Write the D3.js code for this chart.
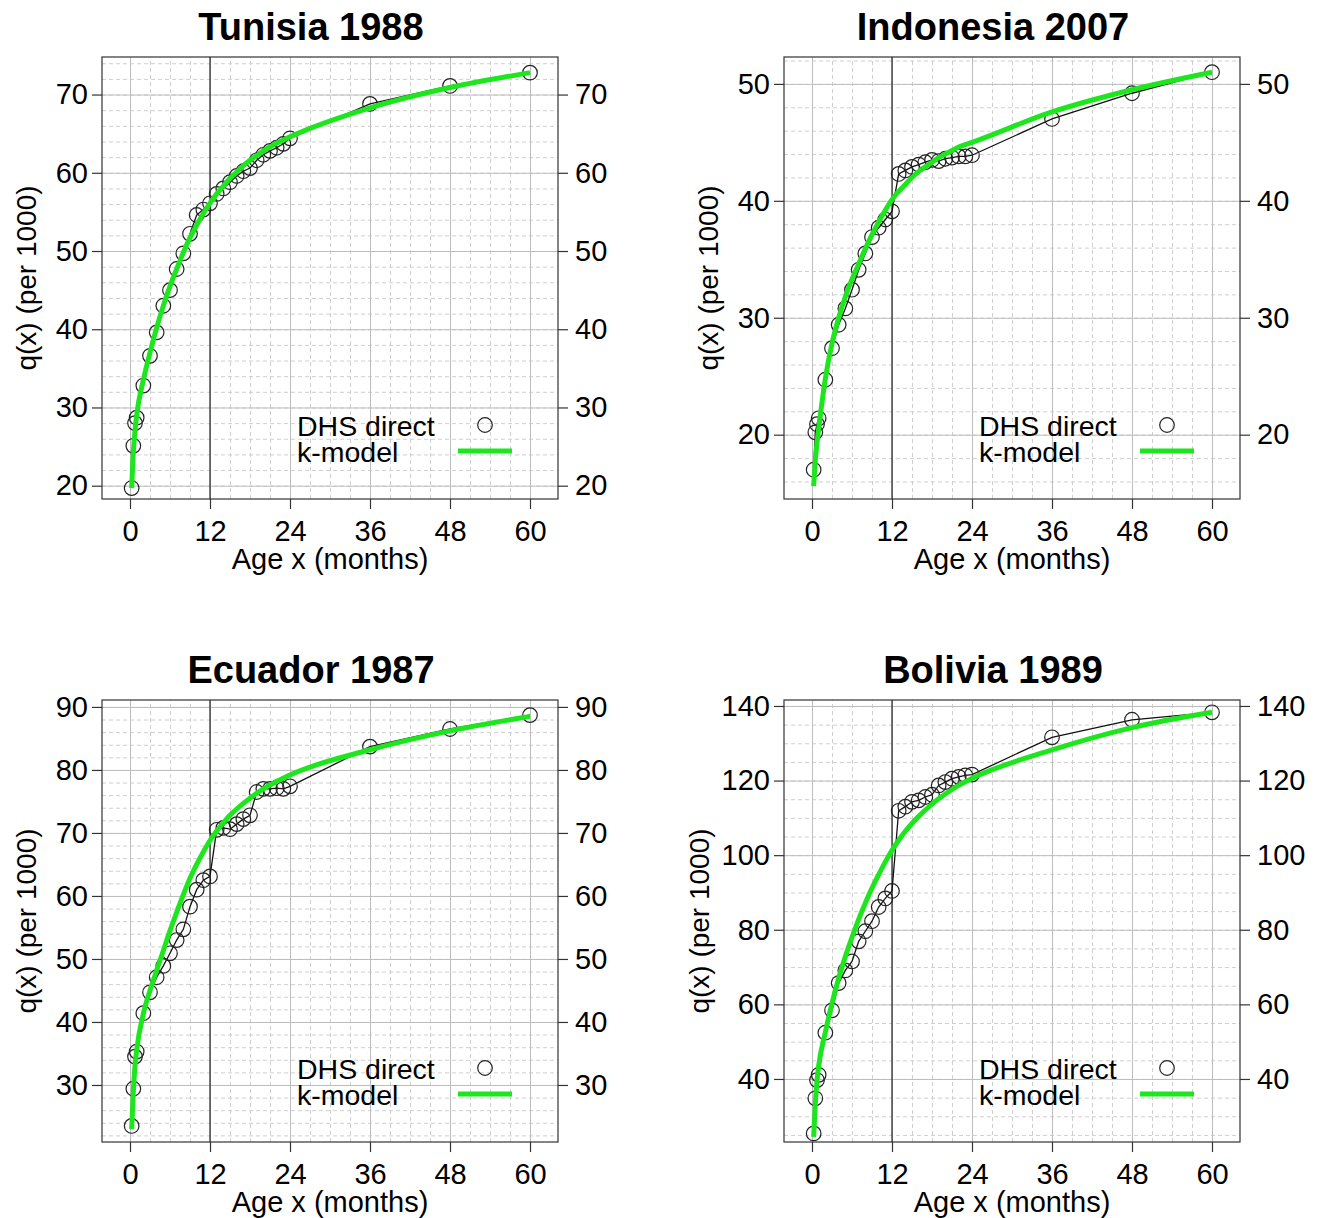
<!DOCTYPE html>
<html>
<head>
<meta charset="utf-8">
<script src="https://cdn.jsdelivr.net/npm/d3@7"></script>
<style>
  body { margin: 0; background: #fff; }
  text { font-family: "Liberation Sans", Arial, sans-serif; fill: #000; }
</style>
</head>
<body>
<div id="chart"></div>
<script>
// ages in months
var ages = [0.25, 0.5, 0.75, 1, 2, 3, 4, 5, 6, 7, 8, 9, 10, 11, 12,
            13, 14, 15, 16, 17, 18, 19, 20, 21, 22, 23, 24, 36, 48, 60];

// q(x) per 1000, DHS direct estimates and k-model fit
var tunisiaDHS   = [19.7, 25.1, 28.0, 28.7, 32.8, 36.6, 39.6, 43.0, 45.0, 47.7, 49.7, 52.2, 54.6, 55.3, 56.1,
                    57.3, 58.0, 58.8, 59.6, 60.2, 60.6, 61.6, 62.3, 62.8, 63.2, 63.7, 64.4, 68.8, 71.1, 72.8];
var tunisiaModel = [19.7, 24.3, 27.0, 29.0, 33.5, 37.0, 40.2, 43.0, 45.5, 47.7, 49.8, 51.7, 53.3, 54.8, 56.1,
                    57.3, 58.3, 59.3, 60.1, 60.9, 61.6, 62.2, 62.8, 63.3, 63.8, 64.2, 64.6, 68.3, 70.9, 72.8];

var indonesiaDHS   = [17.0, 20.2, 20.9, 21.4, 24.7, 27.4, 29.4, 30.8, 32.4, 34.1, 35.5, 36.9, 37.7, 38.4, 39.1,
                      42.3, 42.6, 42.9, 43.1, 43.3, 43.5, 43.4, 43.6, 43.7, 43.8, 43.8, 43.9, 47.0, 49.2, 51.0];
var indonesiaModel = [15.6, 17.8, 19.3, 20.5, 24.8, 27.8, 30.0, 31.8, 33.3, 34.6, 35.9, 37.1, 38.2, 39.2, 40.1,
                      40.8, 41.4, 42.0, 42.5, 42.9, 43.3, 43.7, 44.0, 44.3, 44.6, 44.8, 45.0, 47.6, 49.5, 51.0];

var ecuadorDHS   = [23.5, 29.4, 34.5, 35.3, 41.4, 44.7, 47.1, 48.9, 50.9, 53.0, 54.7, 58.3, 61.0, 62.5, 63.1,
                    70.5, 70.8, 70.6, 71.4, 72.2, 72.8, 76.5, 77.0, 77.0, 77.1, 77.0, 77.4, 83.7, 86.5, 88.7];
var ecuadorModel = [23.0, 29.0, 33.0, 35.5, 41.3, 45.0, 48.2, 51.3, 54.5, 57.4, 60.2, 62.8, 65.0, 67.0, 68.8,
                    70.3, 71.6, 72.8, 73.8, 74.7, 75.5, 76.3, 77.0, 77.6, 78.2, 78.7, 79.2, 83.2, 86.2, 88.5];

var boliviaDHS   = [25.4, 34.8, 39.7, 41.1, 52.4, 58.4, 65.7, 69.1, 71.5, 76.9, 79.6, 82.3, 86.1, 88.4, 90.4,
                    111.9, 113.0, 114.3, 114.7, 115.6, 116.2, 118.7, 119.6, 120.5, 121.0, 121.4, 121.6, 131.6, 136.3, 138.3];
var boliviaModel = [24.5, 33.5, 39.5, 43.5, 52.5, 60.3, 67.0, 72.8, 78.0, 82.8, 87.2, 91.2, 94.8, 98.2, 101.3,
                    104.0, 106.4, 108.5, 110.4, 112.1, 113.7, 115.1, 116.4, 117.6, 118.7, 119.7, 120.6, 128.2, 134.2, 138.3];

// tick labels
var xTicks = [0, 12, 24, 36, 48, 60];
var tunisiaTicks   = [20, 30, 40, 50, 60, 70];
var indonesiaTicks = [20, 30, 40, 50];
var ecuadorTicks   = [30, 40, 50, 60, 70, 80, 90];
var boliviaTicks   = [40, 60, 80, 100, 120, 140];

var panels = [
  {title: "Tunisia 1988",   dhs: tunisiaDHS,   model: tunisiaModel,   ticks: tunisiaTicks,   minor: 2, yDomain: [18.3, 74.8],  left: 102, top: 57,  ylab: -66},
  {title: "Indonesia 2007", dhs: indonesiaDHS, model: indonesiaModel, ticks: indonesiaTicks, minor: 2, yDomain: [14.5, 52.3],  left: 784, top: 57,  ylab: -66},
  {title: "Ecuador 1987",   dhs: ecuadorDHS,   model: ecuadorModel,   ticks: ecuadorTicks,   minor: 2, yDomain: [20.95, 91.1], left: 102, top: 700, ylab: -66},
  {title: "Bolivia 1989",   dhs: boliviaDHS,   model: boliviaModel,   ticks: boliviaTicks,   minor: 5, yDomain: [23.1, 141.6], left: 784, top: 700, ylab: -75}
];

var width = 456, height = 442;
var green = "#1ee61e";

var svg = d3.select("#chart").append("svg")
    .attr("width", 1318)
    .attr("height", 1218);

svg.append("rect").attr("width", 1318).attr("height", 1218).attr("fill", "#fff");

panels.forEach(function(p) {
  var g = svg.append("g")
      .attr("transform", "translate(" + p.left + "," + p.top + ")");

  var x = d3.scaleLinear().domain([-4.2, 64.2]).range([0, width]);
  var y = d3.scaleLinear().domain(p.yDomain).range([height, 0]);

  // minor gridlines (dashed)
  var minorX = d3.range(0, 61, 3);
  var minorY = d3.range(Math.ceil(p.yDomain[0] / p.minor) * p.minor, p.yDomain[1], p.minor);

  g.append("g")
      .attr("class", "grid minor")
      .attr("transform", "translate(0," + height + ")")
      .call(d3.axisBottom(x).tickValues(minorX).tickSize(-height).tickFormat(""));
  g.append("g")
      .attr("class", "grid minor")
      .call(d3.axisLeft(y).tickValues(minorY).tickSize(-width).tickFormat(""));

  // major gridlines
  g.append("g")
      .attr("class", "grid major")
      .attr("transform", "translate(0," + height + ")")
      .call(d3.axisBottom(x).tickValues(xTicks).tickSize(-height).tickFormat(""));
  g.append("g")
      .attr("class", "grid major")
      .call(d3.axisLeft(y).tickValues(p.ticks).tickSize(-width).tickFormat(""));

  g.selectAll(".grid .domain").remove();
  g.selectAll(".grid.minor line")
      .attr("stroke", "#cfcfcf")
      .attr("stroke-width", 1)
      .attr("stroke-dasharray", "4,3");
  g.selectAll(".grid.major line")
      .attr("stroke", "#bdbdbd")
      .attr("stroke-width", 1);

  // vertical line at 12 months
  g.append("line")
      .attr("x1", x(12)).attr("x2", x(12))
      .attr("y1", 0).attr("y2", height)
      .attr("stroke", "#222")
      .attr("stroke-width", 1.2);

  var pts = ages.map(function(a, i) { return {age: a, dhs: p.dhs[i], model: p.model[i]}; });

  // DHS direct: line + open circles
  g.append("path")
      .datum(pts)
      .attr("fill", "none")
      .attr("stroke", "#111")
      .attr("stroke-width", 1.3)
      .attr("d", d3.line().x(function(d) { return x(d.age); }).y(function(d) { return y(d.dhs); }));

  g.selectAll("circle.dhs")
      .data(pts)
    .enter().append("circle")
      .attr("class", "dhs")
      .attr("cx", function(d) { return x(d.age); })
      .attr("cy", function(d) { return y(d.dhs); })
      .attr("r", 7.3)
      .attr("fill", "none")
      .attr("stroke", "#222")
      .attr("stroke-width", 1.2);

  // k-model
  g.append("path")
      .datum(pts)
      .attr("fill", "none")
      .attr("stroke", green)
      .attr("stroke-width", 5)
      .attr("stroke-linejoin", "round")
      .attr("d", d3.line().curve(d3.curveMonotoneX)
          .x(function(d) { return x(d.age); }).y(function(d) { return y(d.model); }));

  // box
  g.append("rect")
      .attr("width", width).attr("height", height)
      .attr("fill", "none")
      .attr("stroke", "#333")
      .attr("stroke-width", 1.2);

  // axes
  g.append("g")
      .attr("class", "axis")
      .attr("transform", "translate(0," + height + ")")
      .call(d3.axisBottom(x).tickValues(xTicks).tickSize(10).tickPadding(11));
  g.append("g")
      .attr("class", "axis")
      .call(d3.axisLeft(y).tickValues(p.ticks).tickSize(10).tickPadding(4));
  g.append("g")
      .attr("class", "axis")
      .attr("transform", "translate(" + width + ",0)")
      .call(d3.axisRight(y).tickValues(p.ticks).tickSize(10).tickPadding(7));

  g.selectAll(".axis .domain").remove();
  g.selectAll(".axis line").attr("stroke", "#333").attr("stroke-width", 1.2);
  g.selectAll(".axis text")
      .attr("font-size", "29px")
      .attr("font-family", "Liberation Sans, Arial, sans-serif")
      .attr("fill", "#000");

  // title
  g.append("text")
      .attr("x", width / 2 - 19)
      .attr("y", -17)
      .attr("text-anchor", "middle")
      .attr("font-size", "38px")
      .attr("font-weight", "bold")
      .text(p.title);

  // axis labels
  g.append("text")
      .attr("x", width / 2)
      .attr("y", height + 70)
      .attr("text-anchor", "middle")
      .attr("font-size", "29px")
      .text("Age x (months)");

  g.append("text")
      .attr("transform", "translate(" + p.ylab + "," + (height / 2) + ") rotate(-90)")
      .attr("text-anchor", "middle")
      .attr("font-size", "28px")
      .text("q(x) (per 1000)");

  // legend
  g.append("text")
      .attr("x", 195).attr("y", height - 63)
      .attr("font-size", "28.5px")
      .text("DHS direct");
  g.append("text")
      .attr("x", 195).attr("y", height - 37)
      .attr("font-size", "28.5px")
      .text("k-model");
  g.append("circle")
      .attr("cx", 383).attr("cy", height - 74)
      .attr("r", 7.3)
      .attr("fill", "none")
      .attr("stroke", "#222")
      .attr("stroke-width", 1.2);
  g.append("line")
      .attr("x1", 356).attr("x2", 410)
      .attr("y1", height - 48).attr("y2", height - 48)
      .attr("stroke", green)
      .attr("stroke-width", 5);
});
</script>
</body>
</html>
